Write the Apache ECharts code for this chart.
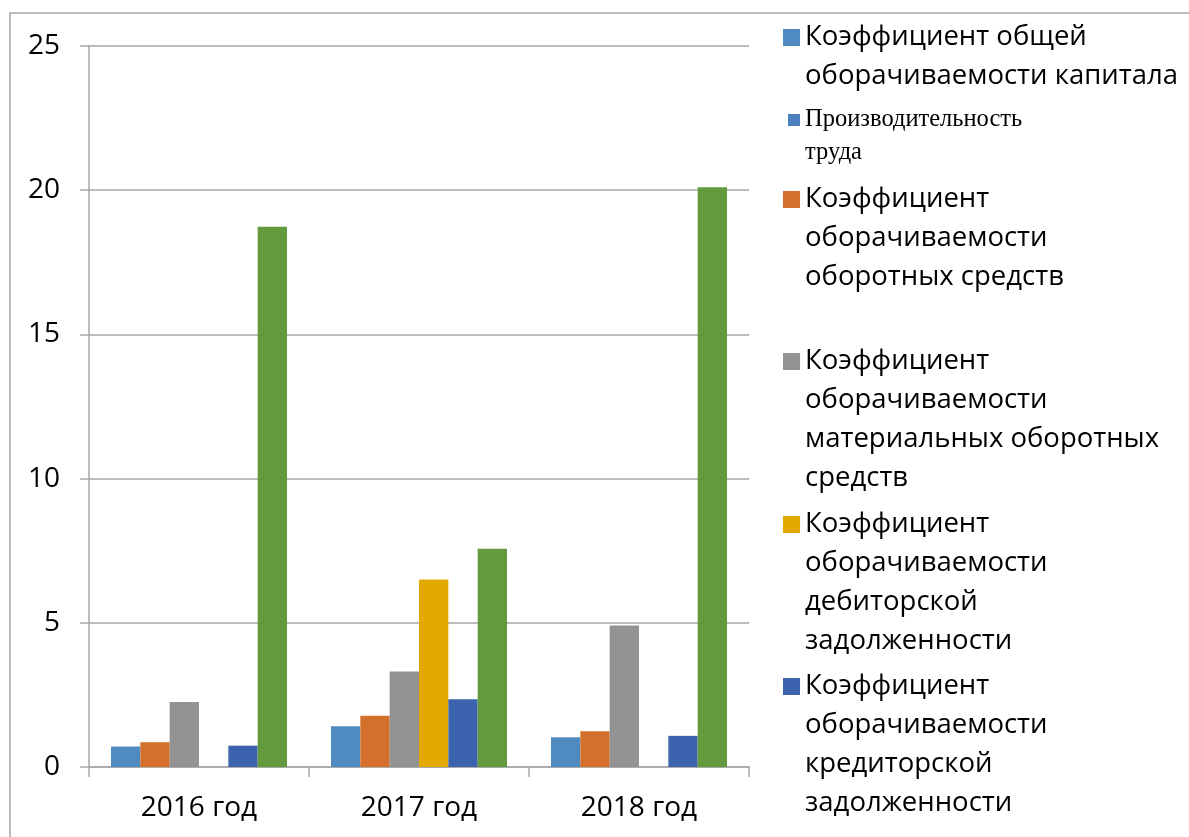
<!DOCTYPE html>
<html>
<head>
<meta charset="utf-8">
<title>Коэффициенты оборачиваемости</title>
<script src="https://cdn.jsdelivr.net/npm/echarts@6/dist/echarts.min.js"></script>
<style>
  html, body { margin: 0; padding: 0; background: #fff; }
  #main { width: 1189px; height: 837px; }
</style>
</head>
<body>
<div id="main"></div>
<script>
// categories
const years = ['2016 год', '2017 год', '2018 год']

// series names (legend order of the picture)
const nameCapital = 'Коэффициент общей оборачиваемости капитала'
const nameLabour = 'Производительность труда'
const nameCurrent = 'Коэффициент оборачиваемости оборотных средств'
const nameMaterial = 'Коэффициент оборачиваемости материальных оборотных средств'
const nameDebtors = 'Коэффициент оборачиваемости дебиторской задолженности'
const nameCreditors = 'Коэффициент оборачиваемости кредиторской задолженности'

// values
const capital = [0.71, 1.41, 1.03]
const current = [0.86, 1.78, 1.24]
const material = [2.25, 3.31, 4.91]
const debtors = [0, 6.5, 0]
const creditors = [0.74, 2.35, 1.08]
const labour = [18.73, 7.57, 20.1]

// y axis ticks
const yMin = 0
const yMax = 25
const yStep = 5

// legend text, split into lines as in the picture
const legendLines = {}
legendLines[nameCapital] = ['Коэффициент общей', 'оборачиваемости капитала']
legendLines[nameLabour] = ['Производительность', 'труда']
legendLines[nameCurrent] = ['Коэффициент', 'оборачиваемости', 'оборотных средств']
legendLines[nameMaterial] = ['Коэффициент', 'оборачиваемости', 'материальных оборотных', 'средств']
legendLines[nameDebtors] = ['Коэффициент', 'оборачиваемости', 'дебиторской', 'задолженности']
legendLines[nameCreditors] = ['Коэффициент', 'оборачиваемости', 'кредиторской', 'задолженности']

const font = '"Open Sans", "Noto Sans", sans-serif'
const colors = {
  capital: '#4f8bc0',
  current: '#d46f2c',
  material: '#939393',
  debtors: '#e2aa00',
  creditors: '#3c63ad',
  labour: '#629a3d',
  labourIcon: '#4d7fbd'
}

// one legend block per entry; blank lines in front keep the marker
// level with the first text line (legend text is centred on the marker)
function legendBlock(name, iconTop, opts) {
  const n = legendLines[name].length
  const lh = opts.lineHeight
  const ih = opts.iconSize
  return {
    data: [opts.icon ? { name: name, itemStyle: { color: opts.icon } } : name],
    orient: 'vertical',
    left: opts.left,
    top: iconTop - ((2 * n - 1) * lh / 2 - ih / 2),
    padding: 0,
    itemWidth: ih,
    itemHeight: ih,
    icon: 'rect',
    selectedMode: false,
    formatter: function (nm) {
      const ls = legendLines[nm]
      return new Array(ls.length).join(' \n') + ls.join('\n')
    },
    textStyle: {
      fontFamily: opts.fontFamily || font,
      fontSize: opts.fontSize,
      lineHeight: lh,
      color: '#000'
    }
  }
}

const big = { left: 783, lineHeight: 39, iconSize: 17, fontSize: 27.5 }

const chart = echarts.init(document.getElementById('main'))
const option = {
  backgroundColor: '#fff',
  animation: false,
  graphic: [
    {
      type: 'rect',
      shape: { x: 10, y: 13, width: 1300, height: 1000 },
      style: { fill: 'none', stroke: '#a6a6a6', lineWidth: 1.5 },
      silent: true
    }
  ],
  legend: [
    legendBlock(nameCapital, 29, big),
    legendBlock(nameLabour, 114, {
      left: 788, lineHeight: 33, iconSize: 12, fontSize: 24.5,
      fontFamily: '"Liberation Serif", "DejaVu Serif", serif',
      icon: colors.labourIcon
    }),
    legendBlock(nameCurrent, 191, big),
    legendBlock(nameMaterial, 353, big),
    legendBlock(nameDebtors, 516, big),
    legendBlock(nameCreditors, 678, big)
  ],
  grid: {
    left: 89,
    right: 440,
    top: 46,
    bottom: 70,
    containLabel: false
  },
  xAxis: {
    type: 'category',
    data: years,
    axisLine: { lineStyle: { color: '#a6a6a6', width: 1.5 } },
    axisTick: { show: true, length: 10, lineStyle: { color: '#a6a6a6', width: 1.5 } },
    axisLabel: { color: '#000', fontFamily: font, fontSize: 28, margin: 27 }
  },
  yAxis: {
    type: 'value',
    min: yMin,
    max: yMax,
    interval: yStep,
    axisLine: { show: true, lineStyle: { color: '#a6a6a6', width: 1.5 } },
    axisTick: { show: true, length: 9, lineStyle: { color: '#a6a6a6', width: 1.5 } },
    splitLine: { lineStyle: { color: '#a6a6a6', width: 1.5 } },
    axisLabel: { color: '#000', fontFamily: font, fontSize: 28, margin: 29 }
  },
  series: [
    { name: nameCapital, type: 'bar', data: capital, itemStyle: { color: colors.capital } },
    { name: nameCurrent, type: 'bar', data: current, itemStyle: { color: colors.current } },
    { name: nameMaterial, type: 'bar', data: material, itemStyle: { color: colors.material } },
    { name: nameDebtors, type: 'bar', data: debtors, itemStyle: { color: colors.debtors } },
    { name: nameCreditors, type: 'bar', data: creditors, itemStyle: { color: colors.creditors } },
    { name: nameLabour, type: 'bar', data: labour, itemStyle: { color: colors.labour } }
  ]
}
option.series.forEach(function (s) {
  s.barGap = '0%'
  s.barCategoryGap = '20%'
})
chart.setOption(option)
</script>
</body>
</html>
